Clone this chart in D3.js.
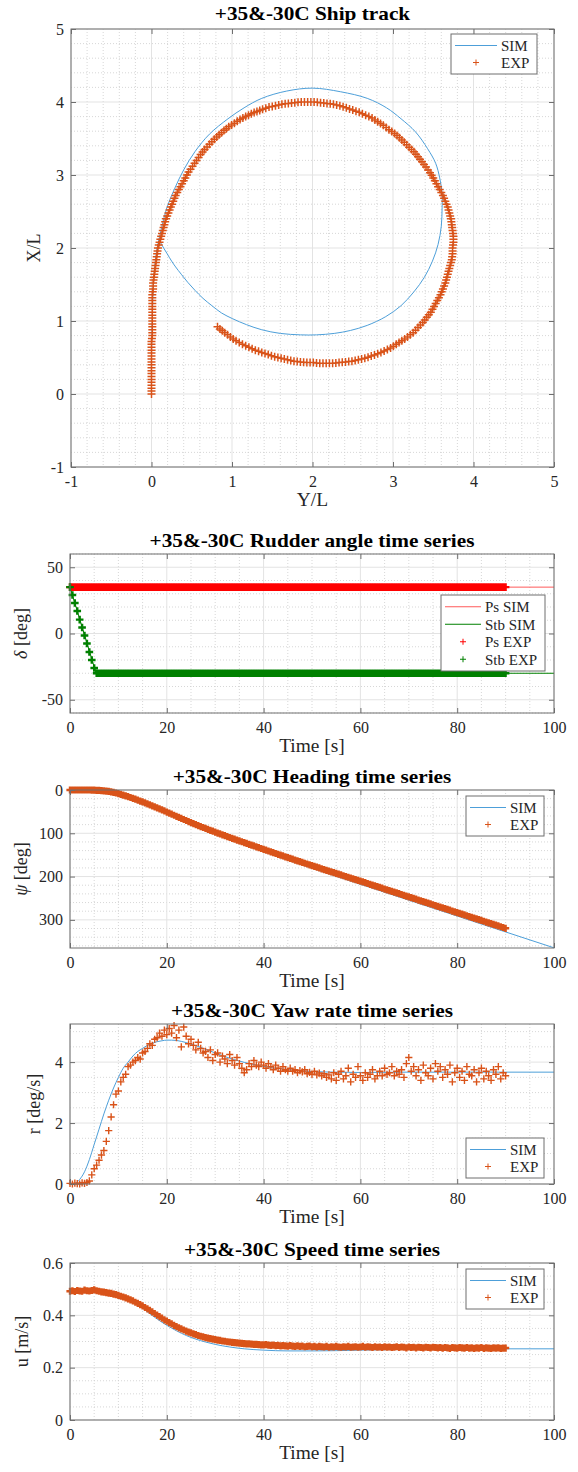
<!DOCTYPE html>
<html><head><meta charset="utf-8">
<script src="https://cdn.jsdelivr.net/npm/d3@7"></script>
<style>body{margin:0;background:#fff}svg{display:block;font-family:"Liberation Serif","Times New Roman",serif}</style>
</head><body><script>
// ---------------- DATA ----------------
// Ship track (Y/L horizontal, X/L vertical)
const trackSimY = [0,0.00,0.01,0.02,0.04,0.07,0.12,0.19,0.29,0.40,0.54,0.72,0.95,1.15,1.37,1.68,2.00,2.35,2.68,2.92,3.10,3.28,3.43,3.53,3.58,3.61,3.61,3.60,3.56,3.49,3.39,3.26,3.10,2.91,2.68,2.47,2.27,2.05,1.85,1.60,1.37,1.18,1.01,0.87,0.75,0.64,0.54,0.45,0.37,0.30,0.25,0.19,0.13,0.10];
const trackSimX = [0,0.50,1.00,1.40,1.75,2.00,2.25,2.55,2.82,3.07,3.32,3.56,3.77,3.92,4.05,4.15,4.19,4.14,4.05,3.92,3.77,3.59,3.36,3.16,2.96,2.75,2.55,2.30,2.05,1.82,1.60,1.40,1.21,1.06,0.94,0.87,0.83,0.81,0.81,0.83,0.88,0.95,1.03,1.11,1.21,1.31,1.42,1.53,1.64,1.74,1.82,1.93,2.04,2.12];
// Experimental track samples as [Y/L, X/L]
const trackExp = [
[0,0],[0,0.04],[0,0.08],[0,0.12],[0,0.16],[0,0.20],[0,0.24],[0,0.28],[0,0.32],[0,0.36],[0,0.40],[0,0.44],[0,0.48],[0,0.52],[0,0.56],[0,0.60],[0,0.64],[0,0.68],[0,0.72],[0.005,0.76],
[0.01,0.80],[0.01,0.84],[0.01,0.88],[0.01,0.92],[0.01,0.96],[0.01,1.00],[0.01,1.04],[0.01,1.08],[0.01,1.12],[0.01,1.16],[0.01,1.20],[0.01,1.24],[0.01,1.28],[0.01,1.32],[0.01,1.36],[0.015,1.40],[0.02,1.44],[0.02,1.48],[0.02,1.52],
[0.025,1.56],[0.03,1.60],[0.035,1.64],[0.04,1.68],[0.045,1.72],[0.05,1.76],[0.055,1.80],[0.06,1.84],[0.065,1.88],[0.07,1.92],[0.075,1.96],[0.08,2.00],[0.09,2.04],[0.10,2.08],[0.11,2.12],[0.12,2.16],[0.13,2.20],[0.14,2.24],[0.15,2.28],[0.16,2.32],[0.17,2.36],[0.18,2.40],
[0.195,2.44],[0.21,2.48],[0.225,2.52],[0.24,2.56],[0.255,2.60],[0.27,2.64],[0.285,2.68],[0.30,2.72],[0.32,2.76],[0.34,2.80],[0.36,2.84],[0.38,2.88],[0.40,2.92],[0.42,2.96],[0.44,3.00],[0.46,3.04],[0.485,3.08],[0.51,3.12],[0.535,3.16],[0.56,3.20],
[0.585,3.24],[0.61,3.28],[0.635,3.315],[0.66,3.35],[0.69,3.385],[0.72,3.42],[0.75,3.455],[0.78,3.49],[0.81,3.52],[0.84,3.55],[0.87,3.58],[0.90,3.61],[0.93,3.635],[0.96,3.66],[0.995,3.685],[1.03,3.71],[1.065,3.735],[1.10,3.76],[1.135,3.78],[1.17,3.80],
[1.205,3.82],[1.24,3.84],[1.275,3.855],[1.31,3.87],[1.345,3.885],[1.38,3.90],[1.42,3.915],[1.46,3.93],[1.50,3.94],[1.54,3.95],[1.58,3.96],[1.62,3.97],[1.66,3.975],[1.70,3.98],[1.74,3.985],[1.78,3.99],[1.82,3.995],[1.86,4.00],[1.90,4.00],[1.94,4.00],
[1.98,4.00],[2.02,4.00],[2.06,3.995],[2.10,3.99],[2.14,3.985],[2.18,3.98],[2.22,3.975],[2.26,3.97],[2.30,3.96],[2.34,3.95],[2.38,3.935],[2.42,3.92],[2.46,3.905],[2.50,3.89],[2.54,3.875],[2.58,3.86],[2.62,3.84],[2.66,3.82],[2.70,3.80],[2.74,3.78],
[2.775,3.755],[2.81,3.73],[2.845,3.705],[2.88,3.68],[2.915,3.65],[2.95,3.62],[2.985,3.595],[3.02,3.57],[3.05,3.54],[3.08,3.51],[3.11,3.48],[3.14,3.45],[3.17,3.415],[3.20,3.38],[3.23,3.35],[3.26,3.32],[3.285,3.285],[3.31,3.25],[3.335,3.215],[3.36,3.18],
[3.385,3.145],[3.41,3.11],[3.435,3.07],[3.46,3.03],[3.48,2.995],[3.50,2.96],[3.52,2.92],[3.54,2.88],[3.56,2.84],[3.58,2.80],[3.60,2.76],[3.62,2.72],[3.635,2.68],[3.65,2.64],[3.665,2.60],[3.68,2.56],[3.69,2.52],[3.70,2.48],[3.71,2.44],[3.72,2.40],
[3.725,2.36],[3.73,2.32],[3.735,2.28],[3.74,2.24],[3.745,2.20],[3.75,2.16],[3.75,2.12],[3.75,2.08],[3.745,2.04],[3.74,2.00],[3.74,1.96],[3.74,1.92],[3.735,1.88],[3.73,1.84],[3.72,1.80],[3.71,1.76],[3.70,1.72],[3.69,1.68],[3.68,1.64],[3.67,1.60],
[3.66,1.56],[3.65,1.52],[3.635,1.48],[3.62,1.44],[3.605,1.40],[3.59,1.36],[3.57,1.32],[3.55,1.28],[3.53,1.24],[3.51,1.20],[3.49,1.16],[3.47,1.12],[3.445,1.085],[3.42,1.05],[3.395,1.015],[3.37,0.98],[3.34,0.945],[3.31,0.91],[3.28,0.875],[3.25,0.84],
[3.215,0.81],[3.18,0.78],[3.145,0.755],[3.11,0.73],[3.075,0.705],[3.04,0.68],[3.005,0.655],[2.97,0.63],[2.93,0.61],[2.89,0.59],[2.85,0.57],[2.81,0.55],[2.77,0.535],[2.73,0.52],[2.69,0.505],[2.65,0.49],[2.61,0.48],[2.57,0.47],[2.53,0.46],[2.49,0.45],
[2.45,0.445],[2.41,0.44],[2.37,0.435],[2.33,0.43],[2.29,0.425],[2.25,0.42],[2.21,0.42],[2.17,0.42],[2.13,0.42],[2.09,0.42],[2.05,0.425],[2.01,0.43],[1.97,0.43],[1.93,0.43],[1.89,0.435],[1.85,0.44],[1.81,0.445],[1.77,0.45],[1.73,0.46],[1.69,0.47],
[1.65,0.48],[1.61,0.49],[1.57,0.50],[1.53,0.51],[1.49,0.525],[1.45,0.54],[1.41,0.555],[1.37,0.57],[1.33,0.585],[1.29,0.60],[1.25,0.62],[1.21,0.64],[1.17,0.66],[1.13,0.68],[1.09,0.705],[1.05,0.73],[1.015,0.755],[0.98,0.78],[0.945,0.81],[0.91,0.84],
[0.88,0.865],[0.85,0.89],[0.82,0.92]];

// Rudder angle
const tRudSim = [0, 5.4, 100];
const psSim = [35, 35, 35];
const stbSim = [35, -30, -30];
const psExp = [
35,35,35,35,35,35,35,35,35,35,35,35,35,35,35,35,35,35,35,35,
35,35,35,35,35,35,35,35,35,35,35,35,35,35,35,35,35,35,35,35,
35,35,35,35,35,35,35,35,35,35,35,35,35,35,35,35,35,35,35,35,
35,35,35,35,35,35,35,35,35,35,35,35,35,35,35,35,35,35,35,35,
35,35,35,35,35,35,35,35,35,35,35,35,35,35,35,35,35,35,35,35,
35,35,35,35,35,35,35,35,35,35,35,35,35,35,35,35,35,35,35,35,
35,35,35,35,35,35,35,35,35,35,35,35,35,35,35,35,35,35,35,35,
35,35,35,35,35,35,35,35,35,35,35,35,35,35,35,35,35,35,35,35,
35,35,35,35,35,35,35,35,35,35,35,35,35,35,35,35,35,35,35,35,
35];
const stbExp = [35,29,23,17,10.5,4.5,-1.5,-7.5,-14,-20,-26,-30,
-30,-30,-30,-30,-30,-30,-30,-30,-30,-30,-30,-30,-30,-30,-30,-30,-30,-30,-30,-30,
-30,-30,-30,-30,-30,-30,-30,-30,-30,-30,-30,-30,-30,-30,-30,-30,-30,-30,-30,-30,
-30,-30,-30,-30,-30,-30,-30,-30,-30,-30,-30,-30,-30,-30,-30,-30,-30,-30,-30,-30,
-30,-30,-30,-30,-30,-30,-30,-30,-30,-30,-30,-30,-30,-30,-30,-30,-30,-30,-30,-30,
-30,-30,-30,-30,-30,-30,-30,-30,-30,-30,-30,-30,-30,-30,-30,-30,-30,-30,-30,-30,
-30,-30,-30,-30,-30,-30,-30,-30,-30,-30,-30,-30,-30,-30,-30,-30,-30,-30,-30,-30,
-30,-30,-30,-30,-30,-30,-30,-30,-30,-30,-30,-30,-30,-30,-30,-30,-30,-30,-30,-30,
-30,-30,-30,-30,-30,-30,-30,-30,-30,-30,-30,-30,-30,-30,-30,-30,-30,-30,-30,-30,
-30,-30,-30,-30,-30,-30,-30,-30,-30];

// Heading
const tHeadSim = [0,2,4,6,8,10,12,14,16,18,20,22,24,26,28,30,35,40,45,50,55,60,70,80,90,100];
const headSim = [0,0.2,1.1,3.5,7.8,13.7,20.8,28.8,37.3,46.3,55.6,65.1,74.5,83.8,92.9,101.7,122.8,142.8,162,180.9,199.4,217.8,254.5,291.2,327.9,364.6];
const headExp = [
0,0,0,0,0,0.01,0.02,0.03,0.05,0.15,
0.35,0.65,1.0,1.45,1.95,2.6,3.4,4.4,5.6,6.9,
8.4,10.0,11.7,13.5,15.4,17.3,19.3,21.3,23.4,25.5,
27.6,29.8,32.0,34.2,36.5,38.8,41.1,43.5,46.0,48.4,
50.9,53.3,55.8,58.3,60.8,63.3,65.7,68.1,70.5,72.9,
75.3,77.6,79.9,82.1,84.4,86.6,88.8,90.9,93.1,95.2,
97.3,99.4,101.5,103.5,105.6,107.6,109.7,111.7,113.7,115.7,
117.7,119.6,121.6,123.5,125.5,127.4,129.3,131.2,133.2,135.1,
137.1,139.0,140.9,142.8,144.8,146.7,148.6,150.5,152.4,154.3,
156.2,158.0,159.9,161.8,163.7,165.5,167.4,169.2,171.0,172.8,
174.7,176.5,178.3,180.1,182.0,183.8,185.6,187.3,189.1,190.9,
192.7,194.5,196.3,198.1,199.9,201.6,203.4,205.2,207.0,208.8,
210.6,212.4,214.2,216.0,217.9,219.7,221.5,223.3,225.1,226.9,
228.8,230.6,232.4,234.2,236.0,237.8,239.6,241.4,243.3,245.1,
246.9,248.7,250.5,252.3,254.2,256.0,257.8,259.6,261.4,263.2,
265.1,266.9,268.7,270.5,272.3,274.1,275.9,277.7,279.6,281.4,
283.2,285.0,286.8,288.6,290.5,292.3,294.1,295.9,297.7,299.5,
301.4,303.2,305.0,306.8,308.6,310.4,312.2,314.0,315.9,317.7,
319.5];

// Yaw rate
const tYawSim = [0,1,2,3,4,5,6,7,8,9,10,11,12,13,14,15,16,17,18,19,20,21,22,23,24,25,26,28,30,32,34,36,38,40,42,44,46,48,50,55,60,70,80,90,100];
const yawSim = [0,0.02,0.15,0.4,0.8,1.3,1.8,2.3,2.75,3.15,3.5,3.8,4.0,4.2,4.35,4.45,4.55,4.62,4.67,4.7,4.72,4.72,4.71,4.68,4.64,4.59,4.54,4.42,4.3,4.18,4.08,3.99,3.92,3.86,3.81,3.77,3.74,3.71,3.69,3.67,3.66,3.67,3.67,3.67,3.67];
const yawExp = [
0.02,0.00,0.03,0.01,0.00,0.04,0.02,0.05, 0.10,0.30,0.50,0.62,0.78,0.95,1.10,1.40,
1.75,2.20,2.60,2.95,3.05,3.35,3.50,3.60, 3.85,3.90,4.00,4.05,4.15,4.10,4.30,4.35,
4.45,4.60,4.55,4.75,4.80,4.95,4.85,5.05, 4.90,5.10,4.95,5.20,4.80,5.05,4.50,5.15,
4.85,4.60,4.75,4.55,4.40,4.65,4.45,4.30, 4.35,4.15,4.40,4.05,4.25,4.30,4.00,4.20,
4.10,3.95,4.25,4.05,3.90,4.15,3.95,3.80, 3.65,3.75,3.95,3.85,4.05,3.90,3.85,4.00,
3.90,3.80,3.95,3.85,3.75,3.90,3.80,3.70, 3.85,3.75,3.70,3.80,3.70,3.75,3.65,3.72,
3.68,3.75,3.62,3.66,3.60,3.70,3.58,3.64, 3.55,3.62,3.50,3.58,3.45,3.65,3.40,3.60,
3.70,3.45,3.55,3.80,3.35,3.60,3.50,3.85, 3.55,3.40,3.65,3.50,3.60,3.75,3.45,3.55,
3.70,3.55,3.80,3.60,3.65,3.85,3.55,3.70, 3.60,3.75,3.50,3.95,4.15,3.70,3.85,3.55,
3.75,3.40,3.90,3.65,3.55,3.80,3.45,3.95, 3.70,3.85,3.50,3.75,3.60,3.90,3.35,3.65,
3.80,3.50,3.70,3.40,3.85,3.60,3.55,3.75, 3.35,3.65,3.80,3.45,3.70,3.55,3.40,3.75,
3.60,3.85,3.45,3.65, 3.55];

// Speed
const tSpdSim = [0,5,8,10,12,14,16,18,20,22,24,26,28,30,33,36,40,45,50,55,60,70,80,90,100];
const spdSim = [0.49,0.49,0.485,0.475,0.46,0.44,0.413,0.386,0.362,0.341,0.323,0.309,0.298,0.289,0.279,0.272,0.267,0.264,0.264,0.265,0.267,0.27,0.271,0.272,0.272];
const spdExp = [
0.492,0.494,0.491,0.495,0.493,0.492,0.496,0.494, 0.493,0.495,0.497,0.494,0.492,0.490,0.489,0.487,
0.485,0.484,0.481,0.479,0.476,0.473,0.470,0.467, 0.463,0.459,0.455,0.450,0.446,0.441,0.436,0.430,
0.425,0.419,0.413,0.407,0.401,0.395,0.389,0.383, 0.378,0.372,0.367,0.362,0.357,0.352,0.348,0.344,
0.340,0.336,0.333,0.329,0.326,0.323,0.320,0.318, 0.315,0.313,0.311,0.309,0.307,0.305,0.304,0.302,
0.301,0.299,0.298,0.297,0.296,0.295,0.294,0.293, 0.292,0.291,0.291,0.290,0.289,0.289,0.288,0.287,
0.287,0.288,0.286,0.285,0.286,0.284,0.285,0.283, 0.284,0.283,0.282,0.284,0.282,0.281,0.283,0.281,
0.282,0.280,0.281,0.282,0.280,0.281,0.279,0.281, 0.280,0.279,0.281,0.278,0.280,0.279,0.281,0.279,
0.278,0.280,0.279,0.281,0.278,0.279,0.280,0.278, 0.279,0.281,0.278,0.280,0.279,0.277,0.280,0.278,
0.279,0.277,0.280,0.278,0.279,0.277,0.278,0.280, 0.277,0.279,0.278,0.276,0.279,0.277,0.278,0.276,
0.278,0.277,0.276,0.278,0.277,0.276,0.278,0.277, 0.276,0.277,0.275,0.277,0.276,0.274,0.277,0.276,
0.275,0.277,0.276,0.275,0.277,0.275,0.276,0.274, 0.276,0.275,0.277,0.274,0.276,0.275,0.274,0.276,
0.275,0.276,0.274,0.275, 0.275];

// Sample times of the experiment (0.5 s sampling)
const tExp = d3.range(0, 90.25, 0.5);

// Tick labels
const trackTicks = [-1,0,1,2,3,4,5];
const timeTicks = [0,20,40,60,80,100];
const rudTicks = [-50,0,50];
const headTicks = [0,100,200,300];
const yawTicks = [0,2,4];
const spdTicks = [0,0.2,0.4,0.6];

// ---------------- DRAWING ----------------
const C = {sim:"#4d9fd9", exp:"#d95319", grid:"#e3e3e3", minor:"#cdcdcd", axis:"#6e6e6e", text:"#262626", ps:"#ff0000", psLine:"#ff5a5a", stb:"#008000"};
const svg = d3.select("body").append("svg").attr("width",578).attr("height",1472);

function stretch(sel, k){
  const n = sel.node(); const w = n.getComputedTextLength();
  sel.attr("textLength", (w*k).toFixed(1)).attr("lengthAdjust","spacingAndGlyphs");
}

function panel(o){
  const g = svg.append("g");
  const x = d3.scaleLinear().domain(o.xd).range([o.l,o.r]);
  const y = d3.scaleLinear().domain(o.yd).range(o.yRev ? [o.t,o.b] : [o.b,o.t]);
  const gg = g.append("g");
  const xMin = d3.range(o.xd[0], o.xd[1]+1e-9, o.xmStep).filter(v => !o.xt.some(t => Math.abs(t-v)<1e-9));
  const yLo = Math.min(...o.yd), yHi = Math.max(...o.yd);
  const yMin = d3.range(Math.ceil(yLo/o.ymStep-1e-9)*o.ymStep, yHi+1e-9, o.ymStep).filter(v => !o.yt.some(t => Math.abs(t-v)<1e-9));
  gg.selectAll(".mx").data(xMin).join("line").attr("x1",d=>x(d)).attr("x2",d=>x(d)).attr("y1",o.t).attr("y2",o.b)
    .attr("stroke",C.minor).attr("stroke-width",0.8).attr("stroke-dasharray","1,2");
  gg.selectAll(".my").data(yMin).join("line").attr("y1",d=>y(d)).attr("y2",d=>y(d)).attr("x1",o.l).attr("x2",o.r)
    .attr("stroke",C.minor).attr("stroke-width",0.8).attr("stroke-dasharray","1,2");
  gg.selectAll(".Mx").data(o.xt).join("line").attr("x1",d=>x(d)).attr("x2",d=>x(d)).attr("y1",o.t).attr("y2",o.b)
    .attr("stroke",C.grid).attr("stroke-width",1);
  gg.selectAll(".My").data(o.yt).join("line").attr("y1",d=>y(d)).attr("y2",d=>y(d)).attr("x1",o.l).attr("x2",o.r)
    .attr("stroke",C.grid).attr("stroke-width",1);
  const data = g.append("g");
  const ax = g.append("g");
  const fmt = d => String(d);
  const style = s => { s.select(".domain").remove(); s.selectAll("line").attr("stroke",C.axis);
    s.selectAll("text").attr("fill",C.text).attr("font-size",16).attr("font-family","Liberation Serif, serif"); };
  ax.append("g").attr("transform",`translate(0,${o.b})`).call(d3.axisBottom(x).tickValues(o.xt).tickFormat(fmt).tickSizeInner(-5).tickSizeOuter(0).tickPadding(9)).call(style);
  ax.append("g").attr("transform",`translate(0,${o.t})`).call(d3.axisTop(x).tickValues(o.xt).tickFormat("").tickSizeInner(-5).tickSizeOuter(0)).call(style);
  ax.append("g").attr("transform",`translate(${o.l},0)`).call(d3.axisLeft(y).tickValues(o.yt).tickFormat(fmt).tickSizeInner(-5).tickSizeOuter(0).tickPadding(7)).call(style);
  ax.append("g").attr("transform",`translate(${o.r},0)`).call(d3.axisRight(y).tickValues(o.yt).tickFormat("").tickSizeInner(-5).tickSizeOuter(0)).call(style);
  ax.append("rect").attr("x",o.l).attr("y",o.t).attr("width",o.r-o.l).attr("height",o.b-o.t)
    .attr("fill","none").attr("stroke",C.axis).attr("stroke-width",1);
  const tt = g.append("text").attr("x",(o.l+o.r)/2).attr("y",o.t-o.titleGap).attr("text-anchor","middle")
    .attr("font-size",19).attr("font-weight","bold").attr("fill","#000").text(o.title);
  stretch(tt, 1.12);
  const xl = g.append("text").attr("x",(o.l+o.r)/2).attr("y",o.b+39).attr("text-anchor","middle")
    .attr("font-size",18).attr("fill",C.text).text(o.xl);
  stretch(xl, 1.08);
  const yl = g.append("text").attr("transform",`translate(${o.ylx},${(o.t+o.b)/2}) rotate(-90)`).attr("text-anchor","middle")
    .attr("font-size",18).attr("fill",C.text);
  o.yl.forEach(p => yl.append("tspan").attr("font-style",p.it?"italic":null).text(p.s));
  return {g, data, ax, x, y};
}

function plusPath(pts, s){ let d=""; pts.forEach(([px,py]) => { d += `M${(px-s).toFixed(2)},${py.toFixed(2)}h${2*s}M${px.toFixed(2)},${(py-s).toFixed(2)}v${2*s}`; }); return d; }
function drawMarkers(P, xs, ys, color, s=3.5, w=1.6){
  const n = Math.min(xs.length, ys.length);
  const pts = d3.range(n).map(i => [P.x(xs[i]), P.y(ys[i])]);
  P.data.append("path").attr("d",plusPath(pts,s)).attr("fill","none").attr("stroke",color).attr("stroke-width",w);
}
function drawLine(P, xs, ys, color, curve=d3.curveMonotoneX, w=1){
  const n = Math.min(xs.length, ys.length);
  const line = d3.line().x(i=>P.x(xs[i])).y(i=>P.y(ys[i])).curve(curve);
  P.data.append("path").attr("d",line(d3.range(n))).attr("fill","none").attr("stroke",color).attr("stroke-width",w);
}
function legend(P, bx, by, bw, items, rowH, lineW){
  const g = P.g.append("g");
  g.append("rect").attr("x",bx).attr("y",by).attr("width",bw).attr("height",rowH*items.length+6)
    .attr("fill","#fff").attr("stroke","#6e6e6e").attr("stroke-width",1);
  items.forEach((it,i) => {
    const cy = by + 3 + rowH*(i+0.5);
    const x0 = bx+4, x1 = bx+4+lineW;
    if (it.type==="line") g.append("line").attr("x1",x0).attr("x2",x1).attr("y1",cy).attr("y2",cy).attr("stroke",it.color).attr("stroke-width",1);
    else g.append("path").attr("d",plusPath([[(x0+x1)/2,cy]],3)).attr("stroke",it.color).attr("stroke-width",1).attr("fill","none");
    g.append("text").attr("x",x1+4).attr("y",cy).attr("dy","0.35em").attr("font-size",15).attr("fill",C.text).text(it.label);
  });
}

// Panel 1: ship track
const P1 = panel({l:71,r:554,t:29,b:467,xd:[-1,5],yd:[-1,5],xt:trackTicks,yt:trackTicks,xmStep:0.2,ymStep:0.2,
  title:"+35&-30C Ship track",titleGap:9,xl:"Y/L",yl:[{s:"X/L"}],ylx:40});
{
  const n = trackSimY.length;
  const line = d3.line().x(i=>P1.x(trackSimY[i])).y(i=>P1.y(trackSimX[i])).curve(d3.curveCatmullRom.alpha(0.5));
  P1.data.append("path").attr("d",line(d3.range(n))).attr("fill","none").attr("stroke",C.sim).attr("stroke-width",1);
  drawMarkers(P1, trackExp.map(p=>p[0]), trackExp.map(p=>p[1]), C.exp, 4, 1.5);
}
legend(P1, 451, 34, 86, [{type:"line",color:C.sim,label:"SIM"},{type:"mark",color:C.exp,label:"EXP"}], 17, 42);

// Panel 2: rudder
const P2 = panel({l:70,r:554,t:554,b:713,xd:[0,100],yd:[-60,60],xt:timeTicks,yt:rudTicks,xmStep:5,ymStep:10,
  title:"+35&-30C Rudder angle time series",titleGap:7,xl:"Time [s]",yl:[{s:"δ",it:true},{s:" [deg]"}],ylx:27});
drawLine(P2, tRudSim, psSim, C.psLine, d3.curveLinear);
drawLine(P2, tRudSim, stbSim, C.stb, d3.curveLinear);
drawMarkers(P2, tExp, psExp, C.ps, 3.8, 2.4);
drawMarkers(P2, tExp, stbExp, C.stb, 3.8, 2.4);
legend(P2, 441, 595, 104, [{type:"line",color:C.psLine,label:"Ps SIM"},{type:"line",color:C.stb,label:"Stb SIM"},{type:"mark",color:C.ps,label:"Ps EXP"},{type:"mark",color:C.stb,label:"Stb EXP"}], 17.5, 36);

// Panel 3: heading
const P3 = panel({l:70,r:554,t:790,b:948,xd:[0,100],yd:[0,365],yRev:true,xt:timeTicks,yt:headTicks,xmStep:5,ymStep:20,
  title:"+35&-30C Heading time series",titleGap:7,xl:"Time [s]",yl:[{s:"ψ",it:true},{s:" [deg]"}],ylx:27});
drawLine(P3, tHeadSim, headSim, C.sim);
drawMarkers(P3, tExp, headExp, C.exp, 3.6, 2.4);
legend(P3, 466, 796, 78, [{type:"line",color:C.sim,label:"SIM"},{type:"mark",color:C.exp,label:"EXP"}], 17, 36);

// Panel 4: yaw rate
const P4 = panel({l:70,r:554,t:1024,b:1184,xd:[0,100],yd:[0,5.25],xt:timeTicks,yt:yawTicks,xmStep:5,ymStep:0.5,
  title:"+35&-30C Yaw rate time series",titleGap:7,xl:"Time [s]",yl:[{s:"r [deg/s]"}],ylx:40});
drawLine(P4, tYawSim, yawSim, C.sim);
drawMarkers(P4, tExp, yawExp, C.exp, 3.6, 1.4);
legend(P4, 466, 1138, 78, [{type:"line",color:C.sim,label:"SIM"},{type:"mark",color:C.exp,label:"EXP"}], 17, 36);

// Panel 5: speed
const P5 = panel({l:70,r:554,t:1263,b:1420,xd:[0,100],yd:[0,0.6],xt:timeTicks,yt:spdTicks,xmStep:5,ymStep:0.05,
  title:"+35&-30C Speed time series",titleGap:7,xl:"Time [s]",yl:[{s:"u [m/s]"}],ylx:28});
drawLine(P5, tSpdSim, spdSim, C.sim);
drawMarkers(P5, tExp, spdExp, C.exp, 3.6, 2.4);
legend(P5, 466, 1269, 78, [{type:"line",color:C.sim,label:"SIM"},{type:"mark",color:C.exp,label:"EXP"}], 17, 36);
</script></body></html>
